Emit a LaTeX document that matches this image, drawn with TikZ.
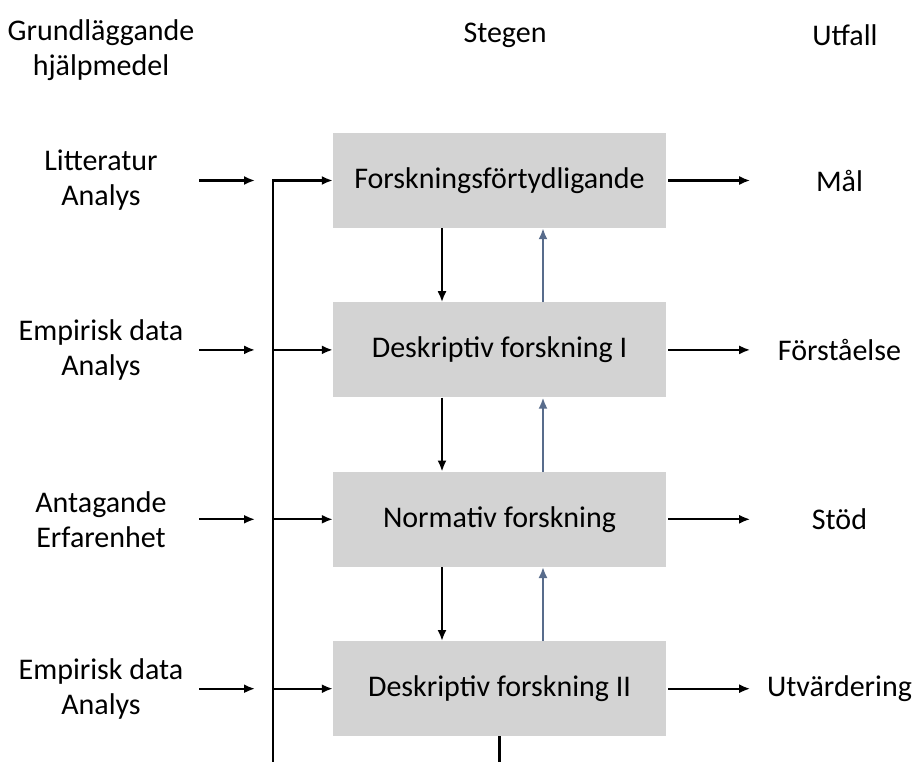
\documentclass[tikz,border=0pt]{standalone}
\usepackage{fontspec}
\setmainfont{Carlito}
\usetikzlibrary{arrows.meta, positioning}
\definecolor{boxgray}{RGB}{211,211,211}
\definecolor{upblue}{RGB}{88,108,140}

\begin{document}
\begin{tikzpicture}[
    x=1pt, y=-1pt,
    font=\fontsize{30}{35}\selectfont,
    stepbox/.style={fill=boxgray, minimum width=333pt, minimum height=95pt, inner sep=0pt},
    txt/.style={align=center, inner sep=0pt},
    arrow/.style={-{Latex[length=11pt,width=9pt]}, line width=2.1pt},
    uparrow/.style={arrow, draw=upblue, fill=upblue},
    line/.style={line width=2.1pt},
    node distance=74pt
]
\useasboundingbox (0,0) rectangle (913,762);

% Headers
\node[txt] (basics) at (101,50) {Grundläggande\\hjälpmedel};
\node[txt] (steps) at (505,35) {Stegen};
\node[txt] (outcomes) at (845,35) {Utfall};

% Steps
\node[stepbox] (clarification) at (499.5,180.5) {Forskningsförtydligande};
\node[stepbox, below=of clarification] (descI) {Deskriptiv forskning I};
\node[stepbox, below=of descI] (normative) {Normativ forskning};
\node[stepbox, below=of normative] (descII) {Deskriptiv forskning II};

% Inputs
\node[txt] (lit) at ([xshift=-398.5]clarification.center) {Litteratur\\Analys};
\node[txt] (empI) at ([xshift=-398.5]descI.center) {Empirisk data\\Analys};
\node[txt] (assume) at ([xshift=-398.5]normative.center) {Antagande\\Erfarenhet};
\node[txt] (empII) at ([xshift=-398.5]descII.center) {Empirisk data\\Analys};

% Outcomes
\node[txt] (goal) at ([xshift=340]clarification.center) {Mål};
\node[txt] (insight) at ([xshift=340]descI.center) {Förståelse};
\node[txt] (support) at ([xshift=340]normative.center) {Stöd};
\node[txt] (evaluation) at ([xshift=340]descII.center) {Utvärdering};

\coordinate (inL) at (199,0);
\coordinate (inR) at (255,0);
\coordinate (busEnd) at (273,762);

% Arrows
\draw[arrow] (inL |- lit) -- (inR |- lit);
\draw[arrow] (inL |- empI) -- (inR |- empI);
\draw[arrow] (inL |- assume) -- (inR |- assume);
\draw[arrow] (inL |- empII) -- (inR |- empII);

\draw[arrow] (busEnd) |- (clarification);
\draw[arrow] (busEnd |- descI) -- (descI);
\draw[arrow] (busEnd |- normative) -- (normative);
\draw[arrow] (busEnd |- descII) -- (descII);

\draw[arrow] ([xshift=-57.5]clarification.south) -- ([xshift=-57.5]descI.north);
\draw[arrow] ([xshift=-57.5]descI.south) -- ([xshift=-57.5]normative.north);
\draw[arrow] ([xshift=-57.5]normative.south) -- ([xshift=-57.5]descII.north);
\draw[uparrow] ([xshift=43.5]descI.north) -- ([xshift=43.5]clarification.south);
\draw[uparrow] ([xshift=43.5]normative.north) -- ([xshift=43.5]descI.south);
\draw[uparrow] ([xshift=43.5]descII.north) -- ([xshift=43.5]normative.south);

\draw[arrow] ([xshift=2]clarification.east) -- ([xshift=84]clarification.east);
\draw[arrow] ([xshift=2]descI.east) -- ([xshift=84]descI.east);
\draw[arrow] ([xshift=2]normative.east) -- ([xshift=84]normative.east);
\draw[arrow] ([xshift=2]descII.east) -- ([xshift=84]descII.east);

\draw[line] (descII.south) -- (descII.south |- busEnd);

\end{tikzpicture}
\end{document}
